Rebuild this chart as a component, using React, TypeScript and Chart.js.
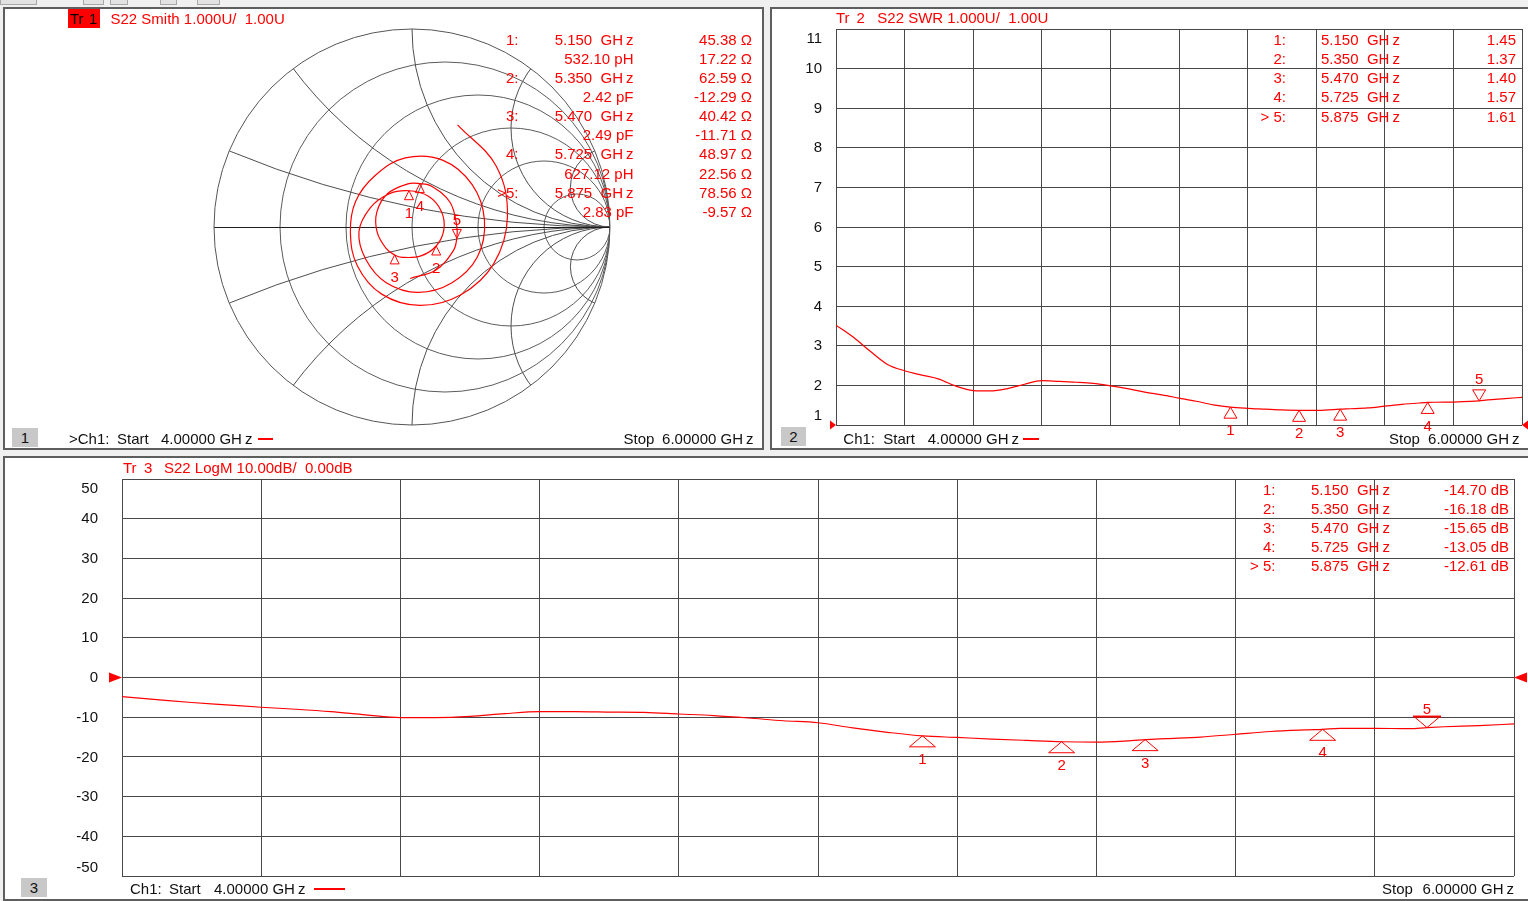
import React, { useEffect, useRef } from "react";
import { Chart, registerables } from "chart.js";

Chart.register(...registerables);

const PAGE_W = 1528;
const PAGE_H = 901;
const FONT = "'Liberation Sans', Arial, Helvetica, sans-serif";
const RED = "#ff0000";
const GRID = "#484848";

// ---------------- data ----------------
const FREQ_GHZ = [
  4.0, 4.05, 4.1, 4.15, 4.2, 4.25, 4.3, 4.35, 4.4, 4.45, 4.5, 4.55, 4.6, 4.65, 4.7,
  4.75, 4.8, 4.85, 4.9, 4.95, 5.0, 5.05, 5.1, 5.15, 5.2, 5.25, 5.3, 5.35, 5.4, 5.45,
  5.47, 5.5, 5.55, 5.6, 5.65, 5.7, 5.725, 5.75, 5.8, 5.85, 5.875, 5.9, 5.95, 6.0,
];

const SWR_VALUES = [
  3.52, 3.22, 2.86, 2.53, 2.37, 2.26, 2.16, 1.98, 1.87, 1.86, 1.92, 2.03, 2.12, 2.1, 2.08,
  2.05, 1.99, 1.92, 1.83, 1.76, 1.68, 1.6, 1.51, 1.45, 1.42, 1.4, 1.38, 1.37, 1.37, 1.39,
  1.4, 1.41, 1.43, 1.475, 1.52, 1.555, 1.57, 1.575, 1.58, 1.595, 1.61, 1.635, 1.665, 1.7,
];

const LOGM_DB = [
  -4.8, -5.55, -6.3, -6.9, -7.5, -8.0, -8.6, -9.4, -10.1, -10.1, -9.8, -9.1, -8.6, -8.6, -8.7,
  -8.8, -9.2, -9.6, -10.2, -10.9, -11.4, -12.7, -13.8, -14.7, -15.1, -15.5, -15.85, -16.18, -16.3, -15.9,
  -15.65, -15.4, -15.0, -14.3, -13.6, -13.2, -13.05, -12.8, -12.8, -12.9, -12.61, -12.4, -12.1, -11.7,
];

// reflection coefficient (real / imaginary) along the Smith trace, same frequency order
const SMITH_RE = [
  0.23, 0.425, 0.482, 0.413, 0.247, 0.04, -0.153, -0.275, -0.311, -0.285, -0.186, -0.034, 0.154, 0.303, 0.366,
  0.33, 0.2, 0.03, -0.13, -0.233, -0.268, -0.21, -0.117, -0.015, 0.083, 0.148, 0.161, 0.122, 0.045, -0.05,
  -0.088, -0.131, -0.176, -0.178, -0.124, -0.021, 0.04, 0.099, 0.192, 0.226, 0.226, 0.209, 0.121, -0.009,
];
const SMITH_IM = [
  0.516, 0.308, 0.05, -0.185, -0.342, -0.396, -0.339, -0.198, -0.031, 0.129, 0.26, 0.349, 0.338, 0.215, 0.035,
  -0.152, -0.283, -0.33, -0.281, -0.164, -0.024, 0.098, 0.167, 0.183, 0.155, 0.08, -0.013, -0.096, -0.146, -0.153,
  -0.141, -0.108, -0.026, 0.074, 0.168, 0.218, 0.219, 0.206, 0.125, 0.006, -0.058, -0.119, -0.217, -0.26,
];

const MARKER_LABELS = ["1", "2", "3", "4", "5"];
const MARKER_FREQ = [5.15, 5.35, 5.47, 5.725, 5.875];
const MARKER_SWR = [1.45, 1.37, 1.4, 1.57, 1.61];
const MARKER_DB = [-14.7, -16.18, -15.65, -13.05, -12.61];
const MARKER_R_OHM = [45.38, 62.59, 40.42, 48.97, 78.56];
const MARKER_X_OHM = [17.22, -12.29, -11.71, 22.56, -9.57];
const MARKER_LC = ["532.10 pH", "2.42 pF", "2.49 pF", "627.12 pH", "2.83 pF"];
const ACTIVE_MARKER = 4;
const Z0 = 50;

const SWR_TICKS = [11, 10, 9, 8, 7, 6, 5, 4, 3, 2, 1];
const LOGM_TICKS = [50, 40, 30, 20, 10, 0, -10, -20, -30, -40, -50];
const SMITH_R_CIRCLES = [0.2, 0.5, 1, 2, 5];
const SMITH_X_ARCS = [0.2, 0.5, 1, 2, 5];

// ---------------- layout ----------------
type Area = { left: number; right: number; top: number; bottom: number };
const SMITH_AREA: Area = { left: 214, right: 610, top: 29, bottom: 425 };
const SWR_AREA: Area = { left: 836, right: 1522, top: 29, bottom: 425 };
const LOGM_AREA: Area = { left: 122, right: 1514, top: 479, bottom: 876 };
const pad = (a: Area) => ({ left: a.left, right: PAGE_W - a.right, top: a.top, bottom: PAGE_H - a.bottom });

const fmtFreq = (f: number) => `${f.toFixed(3)}  GHz`;
const fmtOhm = (v: number) => `${v.toFixed(2)} Ω`;

function zToGamma(r: number, x: number): [number, number] {
  const zr = r / Z0;
  const zi = x / Z0;
  const dr = zr + 1;
  const nr = zr - 1;
  const den = dr * dr + zi * zi;
  return [(nr * dr + zi * zi) / den, (zi * dr - nr * zi) / den];
}

// ---------------- plugins ----------------
type MarkerStyle = { hw: number; h: number; below: number; above: number; bar?: boolean };

function markerPlugin(id: string, getPts: (c: any) => [number, number][], st: MarkerStyle) {
  return {
    id,
    afterDatasetsDraw(chart: any) {
      const ctx: CanvasRenderingContext2D = chart.ctx;
      const pts = getPts(chart);
      ctx.save();
      ctx.strokeStyle = RED;
      ctx.fillStyle = RED;
      ctx.lineWidth = 1;
      ctx.font = `15px ${FONT}`;
      ctx.textAlign = "center";
      ctx.textBaseline = "middle";
      pts.forEach(([px, py], i) => {
        const active = i === ACTIVE_MARKER;
        const d = active ? -1 : 1;
        ctx.beginPath();
        ctx.moveTo(px, py);
        ctx.lineTo(px - st.hw, py + d * st.h);
        ctx.lineTo(px + st.hw, py + d * st.h);
        ctx.closePath();
        ctx.stroke();
        if (active && st.bar) {
          ctx.fillRect(px - st.hw - 1, py - st.h - 1, 2 * st.hw + 2, 2);
        }
        ctx.fillText(MARKER_LABELS[i], px, active ? py - st.above : py + st.below);
      });
      ctx.restore();
    },
  };
}

function tickLabelPlugin(id: string, ticks: number[], rightX: number, topShift: number, bottomShift: number) {
  return {
    id,
    afterDraw(chart: any) {
      const ys = chart.scales.y;
      const ctx: CanvasRenderingContext2D = chart.ctx;
      ctx.save();
      ctx.font = `15px ${FONT}`;
      ctx.fillStyle = "#111111";
      ctx.textAlign = "right";
      ctx.textBaseline = "middle";
      ticks.forEach((v) => {
        let py = ys.getPixelForValue(v);
        if (v === ys.max) py += topShift;
        if (v === ys.min) py -= bottomShift;
        ctx.fillText(String(v), rightX, py + 0.5);
      });
      ctx.restore();
    },
  };
}

function refPlugin(id: string, refValue: number, w: number, h: number) {
  return {
    id,
    afterDraw(chart: any) {
      const ctx: CanvasRenderingContext2D = chart.ctx;
      const a = chart.chartArea;
      const y = chart.scales.y.getPixelForValue(refValue);
      ctx.save();
      ctx.fillStyle = RED;
      ctx.beginPath();
      ctx.moveTo(a.left, y);
      ctx.lineTo(a.left - w, y - h / 2);
      ctx.lineTo(a.left - w, y + h / 2);
      ctx.closePath();
      ctx.fill();
      ctx.beginPath();
      ctx.moveTo(a.right, y);
      ctx.lineTo(a.right + w, y - h / 2);
      ctx.lineTo(a.right + w, y + h / 2);
      ctx.closePath();
      ctx.fill();
      ctx.restore();
    },
  };
}

const smithGridPlugin = {
  id: "smithGrid",
  beforeDatasetsDraw(chart: any) {
    const ctx: CanvasRenderingContext2D = chart.ctx;
    const xs = chart.scales.x;
    const ys = chart.scales.y;
    const cx = xs.getPixelForValue(0);
    const cy = ys.getPixelForValue(0);
    const R = xs.getPixelForValue(1) - cx;
    ctx.save();
    ctx.beginPath();
    ctx.arc(cx, cy, R, 0, Math.PI * 2);
    ctx.clip();
    ctx.strokeStyle = "#5c5c5c";
    ctx.lineWidth = 1;
    SMITH_R_CIRCLES.forEach((r) => {
      ctx.beginPath();
      ctx.arc(xs.getPixelForValue(r / (1 + r)), cy, R / (1 + r), 0, Math.PI * 2);
      ctx.stroke();
    });
    ctx.strokeStyle = "#4e4e4e";
    SMITH_X_ARCS.forEach((x) => {
      [1, -1].forEach((s) => {
        ctx.beginPath();
        ctx.arc(xs.getPixelForValue(1), ys.getPixelForValue(s / x), R / x, 0, Math.PI * 2);
        ctx.stroke();
      });
    });
    ctx.restore();
    ctx.save();
    ctx.lineWidth = 1;
    ctx.strokeStyle = "#1e1e1e";
    const hy = Math.round(cy) + 0.5;
    ctx.beginPath();
    ctx.moveTo(cx - R, hy);
    ctx.lineTo(cx + R, hy);
    ctx.stroke();
    ctx.strokeStyle = "#555555";
    ctx.beginPath();
    ctx.arc(cx, cy, R, 0, Math.PI * 2);
    ctx.stroke();
    ctx.restore();
  },
};

const commonPlugins = { legend: { display: false }, tooltip: { enabled: false } };

function rectScales(xMin: number, xMax: number, xStep: number, yMin: number, yMax: number, yStep: number) {
  const grid = { color: GRID, lineWidth: 1, drawTicks: false };
  return {
    x: {
      type: "linear" as const,
      min: xMin,
      max: xMax,
      ticks: { display: false, stepSize: xStep },
      grid,
      border: { display: false },
      afterFit: (s: any) => {
        s.height = 0;
      },
    },
    y: {
      type: "linear" as const,
      min: yMin,
      max: yMax,
      ticks: { display: false, stepSize: yStep },
      grid,
      border: { display: false },
      afterFit: (s: any) => {
        s.width = 0;
      },
    },
  };
}

function buildSmith(canvas: HTMLCanvasElement) {
  const markerGammas = MARKER_R_OHM.map((r, i) => zToGamma(r, MARKER_X_OHM[i]));
  return new Chart(canvas, {
    type: "scatter",
    data: {
      datasets: [
        {
          data: SMITH_RE.map((re, i) => ({ x: re, y: SMITH_IM[i] })),
          showLine: true,
          borderColor: RED,
          borderWidth: 1.2,
          pointRadius: 0,
          tension: 0.38,
          fill: false,
        } as any,
      ],
    },
    options: {
      responsive: false,
      animation: false,
      events: [],
      layout: { padding: pad(SMITH_AREA) },
      scales: {
        x: { type: "linear", min: -1, max: 1, display: false },
        y: { type: "linear", min: -1, max: 1, display: false },
      },
      plugins: commonPlugins as any,
    },
    plugins: [
      smithGridPlugin,
      markerPlugin(
        "smithMarkers",
        (c) => markerGammas.map(([re, im]) => [c.scales.x.getPixelForValue(re), c.scales.y.getPixelForValue(im)]),
        { hw: 4.5, h: 9, below: 23, above: 18 }
      ),
    ],
  });
}

function buildSwr(canvas: HTMLCanvasElement) {
  return new Chart(canvas, {
    type: "line",
    data: {
      datasets: [
        {
          data: FREQ_GHZ.map((f, i) => ({ x: f, y: SWR_VALUES[i] })),
          borderColor: RED,
          borderWidth: 1.2,
          pointRadius: 0,
          cubicInterpolationMode: "monotone",
          fill: false,
        } as any,
      ],
    },
    options: {
      responsive: false,
      animation: false,
      events: [],
      layout: { padding: pad(SWR_AREA) },
      scales: rectScales(4, 6, 0.2, 1, 11, 1) as any,
      plugins: commonPlugins as any,
    },
    plugins: [
      tickLabelPlugin("swrTicks", SWR_TICKS, 822, 9, 10),
      refPlugin("swrRef", 1, 6, 9),
      markerPlugin(
        "swrMarkers",
        (c) => MARKER_FREQ.map((f, i) => [c.scales.x.getPixelForValue(f), c.scales.y.getPixelForValue(MARKER_SWR[i])]),
        { hw: 6.5, h: 11, below: 24, above: 21 }
      ),
    ],
  });
}

function buildLogm(canvas: HTMLCanvasElement) {
  return new Chart(canvas, {
    type: "line",
    data: {
      datasets: [
        {
          data: FREQ_GHZ.map((f, i) => ({ x: f, y: LOGM_DB[i] })),
          borderColor: RED,
          borderWidth: 1.2,
          pointRadius: 0,
          cubicInterpolationMode: "monotone",
          fill: false,
        } as any,
      ],
    },
    options: {
      responsive: false,
      animation: false,
      events: [],
      layout: { padding: pad(LOGM_AREA) },
      scales: rectScales(4, 6, 0.2, -50, 50, 10) as any,
      plugins: commonPlugins as any,
    },
    plugins: [
      tickLabelPlugin("logTicks", LOGM_TICKS, 98, 9, 9),
      refPlugin("logRef", 0, 13, 10),
      markerPlugin(
        "logMarkers",
        (c) => MARKER_FREQ.map((f, i) => [c.scales.x.getPixelForValue(f), c.scales.y.getPixelForValue(MARKER_DB[i])]),
        { hw: 13, h: 11, below: 24, above: 18, bar: true }
      ),
    ],
  });
}

// ---------------- text helpers ----------------
function renderText(text: string) {
  const parts = text.split("GHz");
  return parts.map((p, i) =>
    i === 0 ? (
      <React.Fragment key={i}>{p}</React.Fragment>
    ) : (
      <React.Fragment key={i}>
        GH<span style={{ marginLeft: 3 }}>z</span>
        {p}
      </React.Fragment>
    )
  );
}

function T(props: { x: number; y: number; text: string; color?: string; align?: "left" | "right" }) {
  const { x, y, text, color = "#111", align = "left" } = props;
  const style: React.CSSProperties = {
    position: "absolute",
    top: y - 10,
    height: 20,
    lineHeight: "20px",
    fontFamily: FONT,
    fontSize: 15,
    color,
    whiteSpace: "pre",
  };
  if (align === "left") style.left = x;
  else style.right = PAGE_W - x;
  return <div style={style}>{renderText(text)}</div>;
}

function NumBox(props: { x: number; y: number; w: number; h: number; label: string }) {
  return (
    <div
      style={{
        position: "absolute",
        left: props.x,
        top: props.y,
        width: props.w,
        height: props.h,
        background: "#c8c8c8",
        color: "#111",
        fontFamily: FONT,
        fontSize: 15,
        lineHeight: `${props.h}px`,
        textAlign: "center",
      }}
    >
      {props.label}
    </div>
  );
}

function Dash(props: { x: number; y: number; w: number }) {
  return <div style={{ position: "absolute", left: props.x, top: props.y - 1, width: props.w, height: 2, background: RED }} />;
}

const panelStyle = (left: number, top: number, width: number, height: number): React.CSSProperties => ({
  position: "absolute",
  left,
  top,
  width,
  height,
  background: "#ffffff",
  border: "2px solid #5e5e5e",
  boxSizing: "border-box",
});

const canvasStyle: React.CSSProperties = {
  position: "absolute",
  left: 0,
  top: 0,
  width: PAGE_W,
  height: PAGE_H,
  pointerEvents: "none",
};

export default function App() {
  const smithRef = useRef<HTMLCanvasElement | null>(null);
  const swrRef = useRef<HTMLCanvasElement | null>(null);
  const logRef = useRef<HTMLCanvasElement | null>(null);

  useEffect(() => {
    const prev = document.body.style.margin;
    document.body.style.margin = "0";
    const charts: Chart[] = [];
    if (smithRef.current) charts.push(buildSmith(smithRef.current));
    if (swrRef.current) charts.push(buildSwr(swrRef.current));
    if (logRef.current) charts.push(buildLogm(logRef.current));
    return () => {
      charts.forEach((c) => c.destroy());
      document.body.style.margin = prev;
    };
  }, []);

  const smithRowY = (i: number) => 40 + 19.08 * i;
  const swrRowY = (i: number) => 40.3 + 19.05 * i;
  const logRowY = (i: number) => 489.5 + 19.0 * i;

  return (
    <div
      style={{
        position: "fixed",
        left: 0,
        top: 0,
        width: PAGE_W,
        height: PAGE_H,
        background: "#f0f0f0",
        overflow: "hidden",
        fontFamily: FONT,
      }}
    >
      {/* top strip tabs */}
      {[
        [0, 37],
        [83, 104],
        [110, 128],
        [160, 177],
        [197, 220],
      ].map(([a, b], i) => (
        <div
          key={i}
          style={{ position: "absolute", left: a, top: -2, width: b - a, height: 7, background: "#e2e2e2", border: "1px solid #a8a8a8", boxSizing: "border-box" }}
        />
      ))}

      <div style={panelStyle(3, 7, 761, 443)} />
      <div style={panelStyle(770, 7, 770, 443)} />
      <div style={panelStyle(3, 456, 1540, 445)} />

      <canvas ref={smithRef} width={PAGE_W} height={PAGE_H} style={canvasStyle} />
      <canvas ref={swrRef} width={PAGE_W} height={PAGE_H} style={canvasStyle} />
      <canvas ref={logRef} width={PAGE_W} height={PAGE_H} style={canvasStyle} />

      {/* ---------- panel 1: Smith ---------- */}
      <div style={{ position: "absolute", left: 68, top: 9, width: 32, height: 19, background: RED }} />
      <T x={70} y={18.5} text="Tr" color="#000" />
      <T x={89} y={18.5} text="1" color="#000" />
      <T x={110.5} y={18.5} text="S22 Smith 1.000U/  1.00U" color={RED} />
      {MARKER_FREQ.map((f, i) => (
        <React.Fragment key={`sm${i}`}>
          <T x={518.5} y={smithRowY(2 * i)} text={i === ACTIVE_MARKER ? ">5:" : `${MARKER_LABELS[i]}:`} color={RED} align="right" />
          <T x={633.5} y={smithRowY(2 * i)} text={fmtFreq(f)} color={RED} align="right" />
          <T x={752} y={smithRowY(2 * i)} text={fmtOhm(MARKER_R_OHM[i])} color={RED} align="right" />
          <T x={633.5} y={smithRowY(2 * i + 1)} text={MARKER_LC[i]} color={RED} align="right" />
          <T x={752} y={smithRowY(2 * i + 1)} text={fmtOhm(MARKER_X_OHM[i])} color={RED} align="right" />
        </React.Fragment>
      ))}
      <NumBox x={12} y={428} w={26} h={19} label="1" />
      <T x={69} y={439} text=">Ch1:" />
      <T x={117} y={439} text="Start" />
      <T x={161} y={439} text="4.00000 GHz" />
      <Dash x={258} y={439} w={15} />
      <T x={623.5} y={439} text="Stop" />
      <T x={753.5} y={439} text="6.00000 GHz" align="right" />

      {/* ---------- panel 2: SWR ---------- */}
      <T x={836} y={18.3} text="Tr" color={RED} />
      <T x={856.5} y={18.3} text="2" color={RED} />
      <T x={877.3} y={18.3} text="S22 SWR 1.000U/  1.00U" color={RED} />
      {MARKER_FREQ.map((f, i) => (
        <React.Fragment key={`sw${i}`}>
          <T x={1286} y={swrRowY(i)} text={i === ACTIVE_MARKER ? "> 5:" : `${MARKER_LABELS[i]}:`} color={RED} align="right" />
          <T x={1321} y={swrRowY(i)} text={fmtFreq(f)} color={RED} />
          <T x={1516} y={swrRowY(i)} text={MARKER_SWR[i].toFixed(2)} color={RED} align="right" />
        </React.Fragment>
      ))}
      <NumBox x={781} y={427} w={25} h={19} label="2" />
      <T x={843.3} y={438.5} text="Ch1:" />
      <T x={883.3} y={438.5} text="Start" />
      <T x={927.7} y={438.5} text="4.00000 GHz" />
      <Dash x={1023} y={438.5} w={16} />
      <T x={1389} y={438.5} text="Stop" />
      <T x={1519.5} y={438.5} text="6.00000 GHz" align="right" />

      {/* ---------- panel 3: LogM ---------- */}
      <T x={123} y={468} text="Tr" color={RED} />
      <T x={144} y={468} text="3" color={RED} />
      <T x={164} y={468} text="S22 LogM 10.00dB/  0.00dB" color={RED} />
      {MARKER_FREQ.map((f, i) => (
        <React.Fragment key={`lg${i}`}>
          <T x={1275.5} y={logRowY(i)} text={i === ACTIVE_MARKER ? "> 5:" : `${MARKER_LABELS[i]}:`} color={RED} align="right" />
          <T x={1311} y={logRowY(i)} text={fmtFreq(f)} color={RED} />
          <T x={1509} y={logRowY(i)} text={`${MARKER_DB[i].toFixed(2)} dB`} color={RED} align="right" />
        </React.Fragment>
      ))}
      <NumBox x={21} y={878} w={26} h={19} label="3" />
      <T x={130} y={889} text="Ch1:" />
      <T x={169} y={889} text="Start" />
      <T x={214} y={889} text="4.00000 GHz" />
      <Dash x={314} y={889} w={31} />
      <T x={1382} y={889} text="Stop" />
      <T x={1514} y={889} text="6.00000 GHz" align="right" />
    </div>
  );
}
